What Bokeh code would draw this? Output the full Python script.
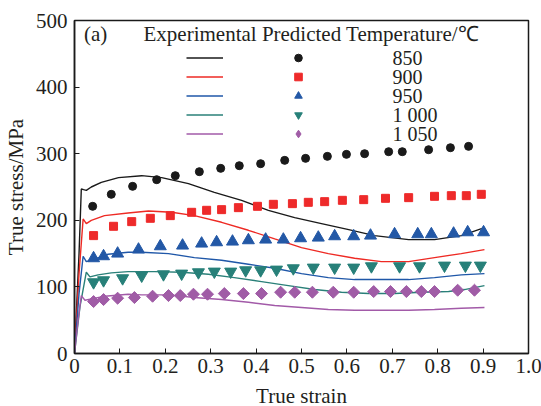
from math import pi
from bokeh.plotting import figure
from bokeh.models import Range1d, FixedTicker, Legend, LegendItem, Label
from bokeh.embed import file_html
from bokeh.resources import INLINE

FONT = "Liberation Serif"

temperatures = ["850", "900", "950", "1 000", "1 050"]
line_colors = ["#1a1a1a", "#ee2a24", "#1f57a8", "#2a8079", "#a25aa8"]
marker_colors = ["#1a1a1a", "#ee2a2a", "#2358a6", "#278079", "#a05ca6"]
markers = ["circle", "square", "triangle", "inverted_triangle", "square"]
legend_markers = ["circle", "square", "triangle", "inverted_triangle", "diamond"]
marker_angles = [0, 0, 0, 0, pi / 4]
marker_sizes = [8, 8, 12, 12, 8.5]

x_ticks = [0, 0.1, 0.2, 0.3, 0.4, 0.5, 0.6, 0.7, 0.8, 0.9, 1.0]
x_tick_labels = ["0", "0.1", "0.2", "0.3", "0.4", "0.5", "0.6", "0.7", "0.8", "0.9", "1.0"]
y_ticks = [0, 100, 200, 300, 400, 500]

# Predicted curves
pred_850_x = [0, 0.010, 0.015, 0.020, 0.026, 0.037, 0.059, 0.097, 0.148, 0.192, 0.251, 0.308, 0.368, 0.427, 0.485, 0.544, 0.604, 0.661, 0.736, 0.793, 0.852, 0.903]
pred_850_y = [0, 150, 247, 246, 245, 250, 257, 264, 267, 264, 255, 242, 230, 215, 204, 195, 186, 177, 171, 171, 177, 189]
pred_900_x = [0, 0.010, 0.019, 0.026, 0.037, 0.066, 0.118, 0.163, 0.214, 0.264, 0.324, 0.383, 0.441, 0.500, 0.559, 0.617, 0.676, 0.736, 0.793, 0.852, 0.903]
pred_900_y = [0, 120, 202, 195, 200, 207, 211, 214, 212, 207, 197, 185, 172, 159, 150, 143, 138, 138, 144, 150, 156]
pred_950_x = [0, 0.010, 0.019, 0.026, 0.045, 0.074, 0.118, 0.148, 0.207, 0.264, 0.324, 0.383, 0.441, 0.500, 0.559, 0.617, 0.676, 0.736, 0.793, 0.852, 0.903]
pred_950_y = [0, 90, 146, 138, 142, 149, 152, 152, 150, 144, 140, 134, 128, 120, 114, 111, 111, 111, 114, 118, 120]
pred_1000_x = [0, 0.012, 0.026, 0.034, 0.052, 0.081, 0.118, 0.176, 0.236, 0.295, 0.352, 0.412, 0.471, 0.529, 0.588, 0.648, 0.705, 0.764, 0.824, 0.859, 0.903]
pred_1000_y = [0, 70, 122, 115, 118, 121, 123, 123, 122, 119, 114, 108, 102, 96, 92, 90, 90, 92, 93, 96, 102]
pred_1050_x = [0, 0.008, 0.015, 0.023, 0.037, 0.067, 0.118, 0.148, 0.207, 0.264, 0.324, 0.383, 0.441, 0.500, 0.559, 0.617, 0.676, 0.736, 0.793, 0.852, 0.903]
pred_1050_y = [0, 50, 87, 80, 82, 86, 89, 88, 88, 84, 81, 77, 72, 69, 66, 65, 65, 65, 66, 68, 69]

# Experimental points
exp_850_x = [0.040, 0.081, 0.128, 0.181, 0.222, 0.275, 0.322, 0.363, 0.410, 0.463, 0.509, 0.557, 0.599, 0.639, 0.692, 0.722, 0.780, 0.828, 0.868]
exp_850_y = [221, 239, 251, 261, 267, 273, 278, 282, 285, 290, 293, 296, 299, 300, 303, 303, 306, 309, 311]
exp_900_x = [0.042, 0.086, 0.126, 0.167, 0.211, 0.258, 0.291, 0.324, 0.361, 0.403, 0.438, 0.480, 0.515, 0.551, 0.590, 0.637, 0.685, 0.736, 0.793, 0.830, 0.863, 0.896]
exp_900_y = [177, 191, 198, 203, 207, 212, 215, 216, 219, 221, 224, 225, 227, 228, 230, 231, 233, 234, 236, 237, 237, 239]
exp_950_x = [0.042, 0.064, 0.095, 0.141, 0.189, 0.238, 0.280, 0.313, 0.348, 0.383, 0.421, 0.460, 0.498, 0.537, 0.573, 0.615, 0.652, 0.705, 0.756, 0.786, 0.835, 0.866, 0.901]
exp_950_y = [143, 146, 150, 156, 161, 162, 165, 167, 168, 170, 171, 171, 173, 174, 176, 176, 177, 179, 179, 179, 180, 182, 182]
exp_1000_x = [0.042, 0.064, 0.106, 0.148, 0.196, 0.236, 0.273, 0.308, 0.344, 0.377, 0.410, 0.445, 0.482, 0.526, 0.573, 0.615, 0.654, 0.716, 0.760, 0.815, 0.861, 0.894]
exp_1000_y = [107, 110, 113, 117, 119, 120, 122, 123, 123, 125, 125, 126, 128, 129, 129, 129, 131, 131, 131, 132, 132, 132]
exp_1050_x = [0.042, 0.064, 0.095, 0.132, 0.172, 0.207, 0.233, 0.262, 0.293, 0.330, 0.372, 0.412, 0.454, 0.485, 0.524, 0.570, 0.615, 0.659, 0.696, 0.731, 0.764, 0.793, 0.844, 0.881]
exp_1050_y = [78, 81, 83, 84, 86, 87, 87, 89, 89, 90, 90, 90, 92, 92, 92, 92, 92, 93, 93, 93, 93, 93, 95, 95]

pred = [(pred_850_x, pred_850_y), (pred_900_x, pred_900_y), (pred_950_x, pred_950_y),
        (pred_1000_x, pred_1000_y), (pred_1050_x, pred_1050_y)]
exp = [(exp_850_x, exp_850_y), (exp_900_x, exp_900_y), (exp_950_x, exp_950_y),
       (exp_1000_x, exp_1000_y), (exp_1050_x, exp_1050_y)]

p = figure(width=541, height=406, output_backend="svg", toolbar_location=None,
           x_range=Range1d(0, 1.0), y_range=Range1d(0, 500),
           min_border_left=73, min_border_right=14, min_border_top=20, min_border_bottom=53)
p.frame_width = 454
p.frame_height = 333

p.xgrid.visible = False
p.ygrid.visible = False
p.outline_line_color = "#1a1a1a"
p.outline_line_width = 1.5
p.background_fill_color = "white"
p.border_fill_color = "white"

for ax in (p.xaxis[0], p.yaxis[0]):
    ax.axis_line_color = "#1a1a1a"
    ax.axis_line_width = 1.5
    ax.major_tick_in = 5
    ax.major_tick_out = 0
    ax.minor_tick_in = 0
    ax.minor_tick_out = 0
    ax.major_tick_line_color = "#1a1a1a"
    ax.major_label_text_font = FONT
    ax.major_label_text_font_size = "21px"
    ax.major_label_text_color = "#231f20"
    ax.axis_label_text_font = FONT
    ax.axis_label_text_font_size = "21px"
    ax.axis_label_text_font_style = "normal"
    ax.axis_label_text_color = "#231f20"

p.xaxis.ticker = FixedTicker(ticks=x_ticks)
p.xaxis.major_label_overrides = {t: lab for t, lab in zip(x_ticks, x_tick_labels)}
p.xaxis.axis_label = "True strain"
p.xaxis.major_label_standoff = 5
p.xaxis.axis_label_standoff = 8
p.yaxis.ticker = FixedTicker(ticks=y_ticks)
p.yaxis.axis_label = "True stress/MPa"
p.yaxis.major_label_standoff = 7
p.yaxis.axis_label_standoff = 5

line_renderers = []
marker_renderers = []
for i in range(5):
    px, py = pred[i]
    r = p.line(px, py, line_color=line_colors[i], line_width=1.4)
    line_renderers.append(r)
for i in range(5):
    ex, ey = exp[i]
    if legend_markers[i] != markers[i] or marker_angles[i] != 0:
        # key glyph for the legend only: same points, zero size, hidden under the real markers
        key = p.scatter(ex, ey, marker=legend_markers[i], size=0,
                        fill_color=marker_colors[i], line_color=marker_colors[i])
    else:
        key = None
    m = p.scatter(ex, ey, marker=markers[i], size=marker_sizes[i], angle=marker_angles[i],
                  fill_color=marker_colors[i], line_color=marker_colors[i])
    marker_renderers.append(key if key is not None else m)

# ----- legend layout (screen px relative to the plot frame) -----
row_h = 19
legend_bottom = 210
common = dict(padding=0, margin=0, border_line_alpha=0, background_fill_alpha=0, spacing=0,
              label_height=row_h, glyph_height=row_h, label_text_font=FONT,
              label_text_font_size="2px", label_standoff=0, label_width=0)

leg_lines = Legend(items=[LegendItem(label=" ", renderers=[r]) for r in line_renderers],
                   location=(112, legend_bottom), glyph_width=37, **common)
leg_marks = Legend(items=[LegendItem(label=" ", renderers=[m]) for m in marker_renderers],
                   location=(214, legend_bottom), glyph_width=20, **common)
p.add_layout(leg_lines, "center")
p.add_layout(leg_marks, "center")

# temperature labels aligned with legend rows
rows_top_px = legend_bottom + len(temperatures) * row_h
for i, t in enumerate(temperatures):
    p.add_layout(Label(x=318, y=rows_top_px - (i + 0.5) * row_h, x_units="screen", y_units="screen",
                       text=t, text_font=FONT, text_font_size="20px",
                       text_baseline="middle", text_color="#231f20"))

p.add_layout(Label(x=0.021, y=480, text="(a)", text_font=FONT, text_font_size="21px",
                   text_baseline="middle", text_color="#231f20"))
p.add_layout(Label(x=0.152, y=480, text="Experimental Predicted Temperature/\u2103", text_font=FONT,
                   text_font_size="21px", text_baseline="middle", text_color="#231f20"))

open("out.html", "w").write(file_html(p, INLINE))
